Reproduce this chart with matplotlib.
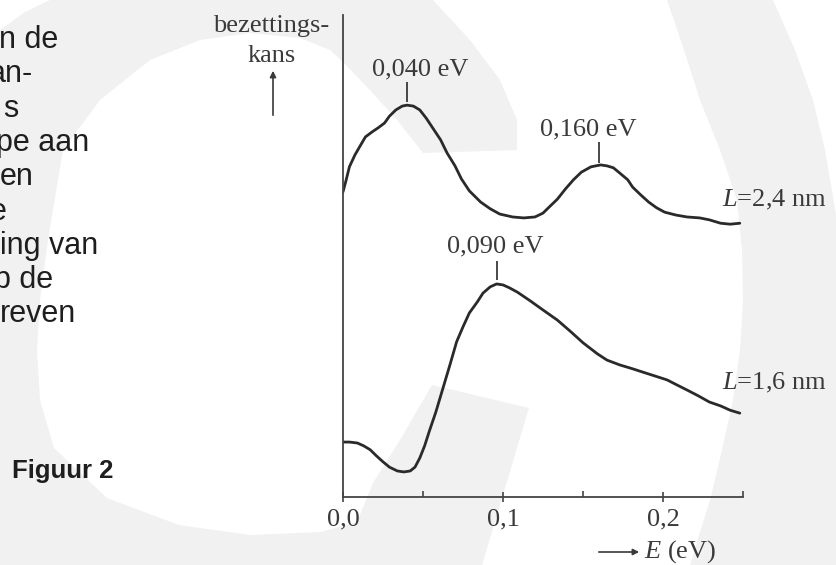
import matplotlib
matplotlib.use("Agg")
import matplotlib.pyplot as plt
from matplotlib.patches import Polygon

# energy (eV) and relative occupation probability (arbitrary units, 0-100)
E_24 = [0.000, 0.002, 0.004, 0.0075, 0.011, 0.014, 0.018, 0.022, 0.026, 0.029,
        0.033, 0.037, 0.040, 0.044, 0.048, 0.052, 0.056, 0.061, 0.065, 0.070,
        0.074, 0.079, 0.086, 0.092, 0.098, 0.106, 0.113, 0.120, 0.125, 0.129,
        0.134, 0.139, 0.144, 0.149, 0.155, 0.161, 0.165, 0.169, 0.173, 0.178,
        0.181, 0.186, 0.191, 0.196, 0.201, 0.208, 0.215, 0.223, 0.229, 0.236,
        0.242, 0.248]
p_24 = [63.3, 65.8, 68.5, 71.0, 73.0, 74.7, 75.7, 76.6, 77.6, 79.0,
        80.3, 81.1, 81.3, 81.1, 80.3, 78.6, 76.6, 74.1, 71.4, 68.7,
        66.0, 63.5, 61.2, 59.8, 58.7, 58.1, 57.9, 58.1, 58.9, 60.2,
        61.8, 63.9, 65.8, 67.4, 68.5, 68.9, 68.7, 68.3, 67.2, 65.8,
        64.3, 62.7, 61.2, 60.0, 59.1, 58.5, 58.1, 57.9, 57.5, 56.8,
        56.6, 56.8]

E_16 = [0.000, 0.004, 0.009, 0.013, 0.017, 0.021, 0.025, 0.029, 0.034, 0.038,
        0.042, 0.045, 0.048, 0.051, 0.054, 0.058, 0.0625, 0.067, 0.071, 0.075,
        0.079, 0.084, 0.0875, 0.092, 0.096, 0.100, 0.104, 0.109, 0.117, 0.125,
        0.134, 0.142, 0.150, 0.159, 0.165, 0.173, 0.181, 0.1875, 0.195, 0.2025,
        0.209, 0.215, 0.222, 0.229, 0.236, 0.242, 0.248]
p_16 = [11.4, 11.4, 11.2, 10.6, 9.8, 8.5, 7.3, 6.2, 5.4, 5.2,
        5.4, 6.2, 8.1, 10.6, 13.7, 17.6, 22.6, 27.6, 32.2, 35.3,
        38.2, 40.5, 42.3, 43.6, 44.2, 44.0, 43.4, 42.5, 40.7, 38.8,
        36.7, 34.4, 32.0, 29.7, 28.4, 27.4, 26.6, 25.9, 25.1, 24.3,
        23.2, 22.2, 21.0, 19.7, 18.9, 18.0, 17.4]

# peak markers: position, marker line start/end, label text
peak_E = [0.040, 0.160, 0.096]
peak_lo = [82.0, 69.3, 45.0]
peak_hi = [86.2, 73.7, 49.0]
peak_text = ["0,040 eV", "0,160 eV", "0,090 eV"]
peak_lab_E = [0.048, 0.153, 0.095]
peak_lab_p = [88.6, 76.3, 51.9]

curve_labels = [r"$L$=2,4 nm", r"$L$=1,6 nm"]
curve_lab_p = [61.6, 23.7]

xticks = [0.0, 0.1, 0.2]
xtick_labels = ["0,0", "0,1", "0,2"]
xticks_minor = [0.05, 0.15, 0.25]

side_text = ["n de", "an-", "s", "pe aan", "en", "e", "ing van", "p de", "reven"]
side_x = [-1, -11, 3, -4, 0, -10, 0, -6, 0]

plt.rcParams["font.family"] = "Liberation Serif"
plt.rcParams["mathtext.fontset"] = "custom"
plt.rcParams["mathtext.rm"] = "Liberation Serif"
plt.rcParams["mathtext.it"] = "Liberation Serif:italic"

W, H = 837, 565
fig = plt.figure(figsize=(W / 100, H / 100), dpi=100)
fig.patch.set_facecolor("#f1f1f1")

# background with the pale watermark, in pixel coordinates
bg = fig.add_axes([0, 0, 1, 1], zorder=0)
bg.set_xlim(0, W)
bg.set_ylim(H, 0)
bg.axis("off")
white_inner = [(433, 0), (667, 0), (684, 50), (700, 100), (720, 150), (737, 200),
               (742, 250), (743, 300), (740, 350), (733, 400), (722, 450), (710, 500),
               (690, 565), (482, 565), (529, 408), (432, 385), (400, 440), (373, 483),
               (357, 522), (321, 532), (250, 535), (179, 525), (107, 498), (54, 448),
               (40, 400), (37, 350), (40, 300), (48, 240), (63, 150), (100, 100),
               (150, 60), (200, 40), (250, 33), (300, 38), (330, 50), (343, 62),
               (370, 90), (397, 120), (423, 153), (517, 150), (517, 120), (500, 80),
               (470, 40)]
white_right = [(773, 0), (837, 0), (837, 220), (825, 150), (813, 100), (795, 50)]
white_corner = [(0, 0), (50, 0), (25, 12), (0, 30)]
for poly in [white_inner, white_right, white_corner]:
    bg.add_patch(Polygon(poly, closed=True, facecolor="white", edgecolor="none"))

ink = "#2a2a2a"
txt = "#3a3a3a"

for i, s in enumerate(side_text):
    bg.text(side_x[i], 48 + i * 34.3, s, family="Liberation Sans", fontsize=22,
            color="#1e1e1e", ha="left", va="baseline")
bg.text(12, 478, "Figuur 2", family="Liberation Sans", fontsize=18.5,
        fontweight="bold", color="#1e1e1e", ha="left", va="baseline")

bg.text(271, 32, "bezettings-", fontsize=19, color=txt, ha="center", va="baseline")
bg.text(272, 62, "kans", fontsize=19, color=txt, ha="center", va="baseline")
bg.annotate("", xy=(273, 68), xytext=(273, 118),
            arrowprops=dict(arrowstyle="-|>", color=txt, lw=1.2, mutation_scale=9))
bg.annotate("", xy=(642, 552), xytext=(596, 552),
            arrowprops=dict(arrowstyle="-|>", color=txt, lw=1.2, mutation_scale=9))
bg.text(644, 552, r"$E$ (eV)", fontsize=19, color=txt, ha="left", va="center")

# the chart itself
ax = fig.add_axes([343 / W, (H - 497) / H, 400 / W, 482 / H], zorder=1)
ax.patch.set_alpha(0)
ax.plot(E_24, p_24, color=ink, lw=2.0, solid_joinstyle="round", solid_capstyle="round")
ax.plot(E_16, p_16, color=ink, lw=2.0, solid_joinstyle="round", solid_capstyle="round")
ax.set_xlim(0, 0.25)
ax.set_ylim(0, 100)

ax.vlines(peak_E, peak_lo, peak_hi, color=ink, lw=1.2)
for i in range(len(peak_E)):
    ax.text(peak_lab_E[i], peak_lab_p[i], peak_text[i], fontsize=19, color=txt,
            ha="center", va="center")
for i in range(len(curve_labels)):
    ax.text(0.2369, curve_lab_p[i], curve_labels[i], fontsize=19, color=txt,
            ha="left", va="center", clip_on=False)

for side in ["top", "right"]:
    ax.spines[side].set_visible(False)
for side in ["left", "bottom"]:
    ax.spines[side].set_color("#444444")
    ax.spines[side].set_linewidth(1.3)
ax.set_yticks([])
ax.set_xticks(xticks)
ax.set_xticklabels(xtick_labels)
ax.set_xticks(xticks_minor, minor=True)
ax.tick_params(axis="x", which="major", direction="inout", length=7, width=1.2,
               color="#444444", pad=5, labelsize=19, labelcolor=txt)
ax.tick_params(axis="x", which="minor", direction="in", length=4, width=1.2,
               color="#444444")

fig.savefig("out.png", dpi=100)
